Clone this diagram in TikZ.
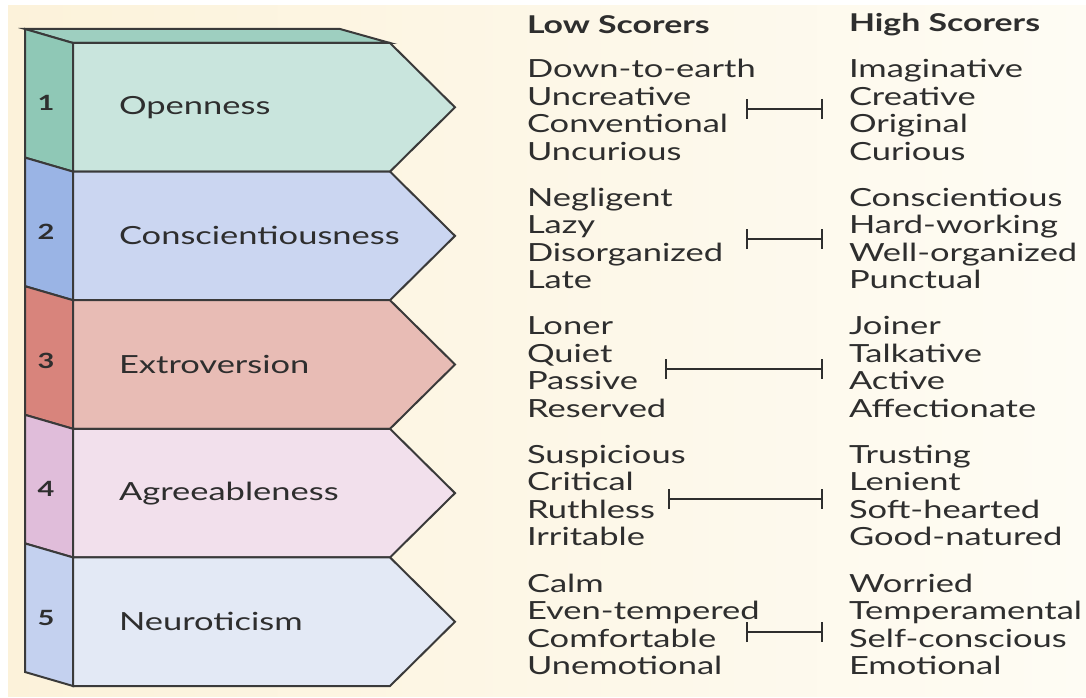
\documentclass[tikz,border=0pt]{standalone}
\usepackage{fontspec}
\setmainfont[FakeStretch=1.38]{Lato}
\usetikzlibrary{arrows.meta}
\definecolor{cream}{HTML}{FCF2DA}
\definecolor{creamlight}{HTML}{FEFCF4}
\definecolor{ink}{HTML}{2E2E2E}
\definecolor{edge}{HTML}{3A3A3A}
% front and side colours of the five blocks
\definecolor{front1}{HTML}{C9E5DD} \definecolor{side1}{HTML}{8FC8B6}
\definecolor{front2}{HTML}{CBD6F1} \definecolor{side2}{HTML}{9AB4E5}
\definecolor{front3}{HTML}{E8BCB5} \definecolor{side3}{HTML}{D8847C}
\definecolor{front4}{HTML}{F2E0EC} \definecolor{side4}{HTML}{E0BDDA}
\definecolor{front5}{HTML}{E3E9F5} \definecolor{side5}{HTML}{C4D1EF}
\definecolor{top1}{HTML}{9ECFC0}

\tikzset{every picture/.style={line width=2pt, x=1pt, y=-1pt}}
\tikzset{
  face/.style={draw=edge, line join=miter, fill=#1},
  trait/.style={font=\fontsize{25}{25}\selectfont, text=ink, anchor=west, inner sep=0pt},
  num/.style={font=\fontsize{21}{21}\selectfont\bfseries, text=ink, inner sep=0pt},
  head/.style={font=\fontsize{24.5}{24.5}\selectfont\bfseries, text=ink, anchor=west, inner sep=0pt},
  words/.style={font=\fontsize{25}{27.5}\selectfont, text=ink, align=left, anchor=west, inner sep=0pt},
  scorebar/.style={draw=ink, line width=2.3pt, {Bar[width=20pt]}-{Bar[width=20pt]}},
}
\def\h{128.6} % height of one block
\def\d{14}    % drop of the side face

\begin{document}
\begin{tikzpicture}
  \useasboundingbox (0,0) rectangle (1086,698);
  \fill[white] (0,0) rectangle (1086,698);
  \shade[left color=cream, right color=creamlight] (8,6) rectangle (1086,696);
  % top face of the stack
  \draw[face=top1] (25,29) -- (340,29) -- (390,43) -- (73,43) -- cycle;
  % one block per trait, with its two word lists
  \foreach \name/\lo/\hi/\bx/\by [count=\i] in {
      Openness/{Down-to-earth\\Uncreative\\Conventional\\Uncurious}/{Imaginative\\Creative\\Original\\Curious}/746/109,
      Conscientiousness/{Negligent\\Lazy\\Disorganized\\Late}/{Conscientious\\Hard-working\\Well-organized\\Punctual}/746/239,
      Extroversion/{Loner\\Quiet\\Passive\\Reserved}/{Joiner\\Talkative\\Active\\Affectionate}/665/369,
      Agreeableness/{Suspicious\\Critical\\Ruthless\\Irritable}/{Trusting\\Lenient\\Soft-hearted\\Good-natured}/668/499,
      Neuroticism/{Calm\\Even-tempered\\Comfortable\\Unemotional}/{Worried\\Temperamental\\Self-conscious\\Emotional}/746/632} {
    \pgfmathsetmacro\t{43+(\i-1)*\h}
    \pgfmathsetmacro\b{\t+\h}
    \pgfmathsetmacro\m{\t+\h/2}
    \draw[face=side\i] (25,\t-\d) -- (73,\t) -- (73,\b) -- (25,\b-\d) -- cycle;
    \draw[face=front\i] (73,\t) -- (390,\t) -- (455,\m) -- (390,\b) -- (73,\b) -- cycle;
    \node[num] (n\i) at (46,\m-4) {\i};
    \node[trait] (t\i) at (118,\m) {\name};
    \node[words] (lo\i) at (526,\m+2.5) {\lo};
    \node[words] (hi\i) at (848,\m+2.5) {\hi};
    \coordinate (a\i) at (\bx,\by);
    \coordinate (b\i) at (823,\by);
    \draw[scorebar] (a\i) -- (b\i);
  };
  \node[head] (low) at (526,25) {Low Scorers};
  \node[head] (high) at (848,25) {High Scorers};
\end{tikzpicture}
\end{document}
